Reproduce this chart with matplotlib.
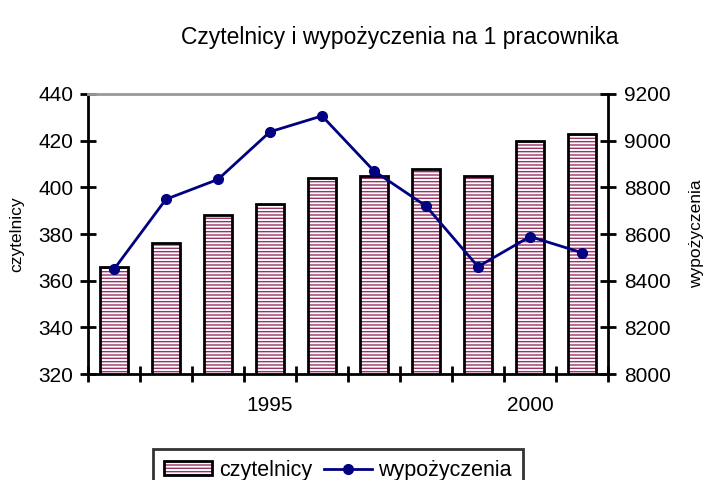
import matplotlib
matplotlib.use("Agg")
import matplotlib.pyplot as plt
import numpy as np
from matplotlib.patches import Patch
from matplotlib.lines import Line2D

plt.rcParams['font.family'] = ['Liberation Sans', 'DejaVu Sans']
plt.rcParams['hatch.linewidth'] = 1.0

years = [1992, 1993, 1994, 1995, 1996, 1997, 1998, 1999, 2000, 2001]
czytelnicy = [366, 376, 388, 393, 404, 405, 408, 405, 420, 423]
wypozyczenia = [8449, 8749, 8834, 9038, 9106, 8870, 8720, 8460, 8589, 8520]
year_labels = {1995: "1995", 2000: "2000"}

fig = plt.figure(figsize=(7.04, 4.8), dpi=100)
ax = fig.add_axes([0.125, 0.2208, 0.7386, 0.5834])
ax2 = ax.twinx()

x = np.arange(len(years))
hatch_color = '#993366'
ax.bar(x, czytelnicy, width=0.54, color='white', edgecolor=hatch_color,
       hatch='-----', linewidth=0, zorder=2)
ax.bar(x, czytelnicy, width=0.54, color='none', edgecolor='black', linewidth=2, zorder=3)

ax.set_ylim(320, 440)
ax.set_yticks(np.arange(320, 441, 20))
ax.set_xlim(-0.5, len(years) - 0.5)
ax.set_xticks(np.arange(-0.5, len(years), 1.0))
ax.set_xticklabels([''] * (len(years) + 1))
ax.set_xticks([i for i, y in enumerate(years) if y in year_labels], minor=True)
ax.set_xticklabels([year_labels[y] for y in years if y in year_labels], minor=True)
ax.tick_params(axis='x', which='major', direction='inout', length=11, width=2)
ax.tick_params(axis='x', which='minor', length=0, pad=16, labelsize=15)
ax.tick_params(axis='y', direction='inout', length=11, width=2, labelsize=15, pad=5)
ax.set_ylabel('czytelnicy', fontsize=12.5)
ax.yaxis.set_label_coords(-0.122, 0.5)

for s in ['left', 'bottom']:
    ax.spines[s].set_linewidth(2)
ax.spines['top'].set_color('#999999')
ax.spines['top'].set_linewidth(2)
ax.spines['right'].set_visible(False)
for s in ['top', 'bottom', 'left']:
    ax2.spines[s].set_visible(False)
ax2.spines['right'].set_linewidth(2)

ax2.plot(x, wypozyczenia, color='#000080', linewidth=2, marker='o', markersize=7, zorder=4)
ax2.set_ylim(8000, 9200)
ax2.set_yticks(np.arange(8000, 9201, 200))
ax2.tick_params(axis='y', direction='inout', length=11, width=2, labelsize=15, pad=6)
ax2.set_ylabel('wypożyczenia', fontsize=12.5)
ax2.yaxis.set_label_coords(1.155, 0.5)
ax.set_zorder(1)
ax.patch.set_visible(False)
ax2.set_zorder(2)

fig.text(0.568, 0.921, 'Czytelnicy i wypożyczenia na 1 pracownika', ha='center', va='center', fontsize=16.5)

h1 = Patch(facecolor='white', edgecolor=hatch_color, hatch='-----', linewidth=0)
h1b = Patch(facecolor='none', edgecolor='black', linewidth=2)
h2 = Line2D([], [], color='#000080', linewidth=2, marker='o', markersize=7)
leg = fig.legend([(h1, h1b), h2], ['czytelnicy', 'wypożyczenia'], loc='upper left',
                 bbox_to_anchor=(0.2173, 0.0646), ncol=2, fontsize=15.5, frameon=True,
                 fancybox=False, edgecolor='black', handlelength=2.25, handleheight=0.6,
                 columnspacing=0.55, handletextpad=0.3, borderpad=0.5, borderaxespad=0)
leg.get_frame().set_linewidth(2)

fig.savefig('out.png', dpi=100)
